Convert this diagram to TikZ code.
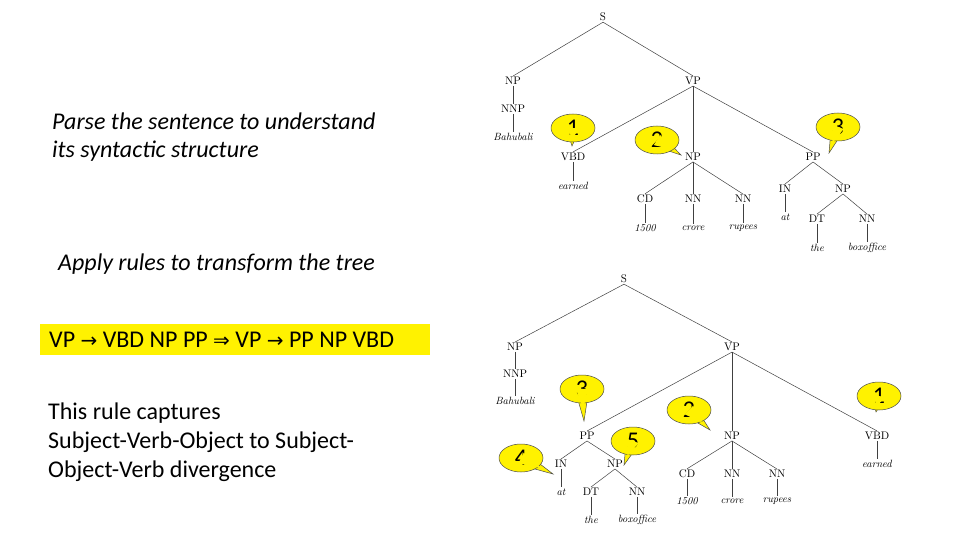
\documentclass[tikz,border=0pt]{standalone}
\usepackage{fontspec}
\setmainfont{Carlito}
\newfontfamily\arr{DejaVu Sans}
\newfontfamily\lm{Latin Modern Roman}
\usetikzlibrary{calc,shapes.geometric}
\begin{document}
\begin{tikzpicture}[x=1pt,y=-1pt,
  t/.style={font=\lm\fontsize{11}{11}\selectfont,inner sep=1pt},
  w/.style={font=\lm\itshape\fontsize{10.5}{11}\selectfont,inner sep=1pt},
  e/.style={draw=black!75,line width=0.5pt},
  txt/.style={font=\fontsize{24}{29}\selectfont,anchor=west,align=left,inner sep=0pt}]
\useasboundingbox (0,0) rectangle (960,540);
\newcommand\callout[6]{%
  \coordinate (#1c) at (#2,#3); \coordinate (#1t) at (#4,#5);
  \fill[yellow,draw=black!70,line width=0.5pt] ($(#1c)!7pt!90:(#1t)$) -- (#1t) -- ($(#1c)!7pt!-90:(#1t)$) -- cycle;
  \node[ellipse,fill=yellow,draw=black!70,line width=0.5pt,minimum width=44,minimum height=28,inner sep=0pt,font=\fontsize{24}{24}\selectfont] (#1) at (#1c) {#6};
  \fill[yellow] ($(#1c)!6pt!90:(#1t)$) -- ($(#1c)!0.62!(#1t)$) -- ($(#1c)!6pt!-90:(#1t)$) -- cycle;}
% left text
\node[txt,font=\itshape\fontsize{24}{28}\selectfont] (p1) at (52,137) {Parse the sentence to understand\\its syntactic structure};
\node[txt,font=\itshape\fontsize{24}{28}\selectfont] (p2) at (58,264) {Apply rules to transform the tree};
\fill[yellow] (40,324) rectangle (430,355);
\node[txt] (rule) at (49,340) {VP {\arr\fontsize{20}{24}\selectfont →} VBD NP PP {\arr\fontsize{20}{24}\selectfont ⇒} VP {\arr\fontsize{20}{24}\selectfont →} PP NP VBD};
\node[txt] (p3) at (48,442) {This rule captures\\Subject-Verb-Object to Subject-\\Object-Verb divergence};
% top tree
\node[t] (S) at (603,17) {S};
\node[t] (NP1) at (513,81) {NP};
\node[t] (NNP) at (513,109) {NNP};
\node[w] (bah) at (513,137) {Bahubali};
\node[t] (VP) at (693,81) {VP};
\node[t] (VBD) at (573,157) {VBD};
\node[w] (earn) at (573,186) {earned};
\node[t] (NP2) at (693,157) {NP};
\node[t] (CD) at (645,199) {CD};
\node[t] (NNa) at (693,199) {NN};
\node[t] (NNb) at (743,199) {NN};
\node[w] (n1500) at (645,228) {1500};
\node[w] (crore) at (693,228) {crore};
\node[w] (rup) at (743,228) {rupees};
\node[t] (PP) at (813,157) {PP};
\node[t] (IN) at (785,189) {IN};
\node[t] (NP3) at (843,189) {NP};
\node[w] (at) at (785,217) {at};
\node[t] (DT) at (817,219) {DT};
\node[t] (NNc) at (867,219) {NN};
\node[w] (the) at (817,248) {the};
\node[w] (box) at (867,248) {boxoffice};
\foreach \a/\b in {S/NP1,S/VP,NP1/NNP,NNP/bah,VP/VBD,VP/NP2,VP/PP,VBD/earn,NP2/CD,NP2/NNa,NP2/NNb,CD/n1500,NNa/crore,NNb/rup,PP/IN,PP/NP3,IN/at,NP3/DT,NP3/NNc,DT/the,NNc/box}
  \draw[e] (\a.south) -- (\b.north);
\callout{c1}{573}{128}{572}{146}{1}
\callout{c2}{657}{140}{681}{155}{2}
\callout{c3}{838}{127}{829}{153}{3}
% bottom tree
\node[t] (bS) at (624,279) {S};
\node[t] (bNP1) at (515,347) {NP};
\node[t] (bNNP) at (515,374) {NNP};
\node[w] (bbah) at (515,401) {Bahubali};
\node[t] (bVP) at (732,347) {VP};
\node[t] (bPP) at (587,436) {PP};
\node[t] (bIN) at (561,464) {IN};
\node[w] (bat) at (561,492) {at};
\node[t] (bNP3) at (615,464) {NP};
\node[t] (bDT) at (591,492) {DT};
\node[t] (bNNc) at (637,492) {NN};
\node[w] (bthe) at (591,520) {the};
\node[w] (bbox) at (637,520) {boxoffice};
\node[t] (bNP2) at (732,436) {NP};
\node[t] (bCD) at (687,474) {CD};
\node[t] (bNNa) at (732,474) {NN};
\node[t] (bNNb) at (777,474) {NN};
\node[w] (b1500) at (687,501) {1500};
\node[w] (bcrore) at (732,501) {crore};
\node[w] (brup) at (777,501) {rupees};
\node[t] (bVBD) at (877,436) {VBD};
\node[w] (bearn) at (877,464) {earned};
\foreach \a/\b in {bS/bNP1,bS/bVP,bNP1/bNNP,bNNP/bbah,bVP/bPP,bVP/bNP2,bVP/bVBD,bPP/bIN,bPP/bNP3,bIN/bat,bNP3/bDT,bNP3/bNNc,bDT/bthe,bNNc/bbox,bNP2/bCD,bNP2/bNNa,bNP2/bNNb,bCD/b1500,bNNa/bcrore,bNNb/brup,bVBD/bearn}
  \draw[e] (\a.south) -- (\b.north);
\callout{d3}{582}{389}{584}{421}{3}
\callout{d2}{689}{410}{710}{430}{2}
\callout{d1}{879}{396}{876}{412}{1}
\callout{d5}{633}{441}{624}{465}{5}
\callout{d4}{521}{458}{553}{474}{4}
\end{tikzpicture}
\end{document}
